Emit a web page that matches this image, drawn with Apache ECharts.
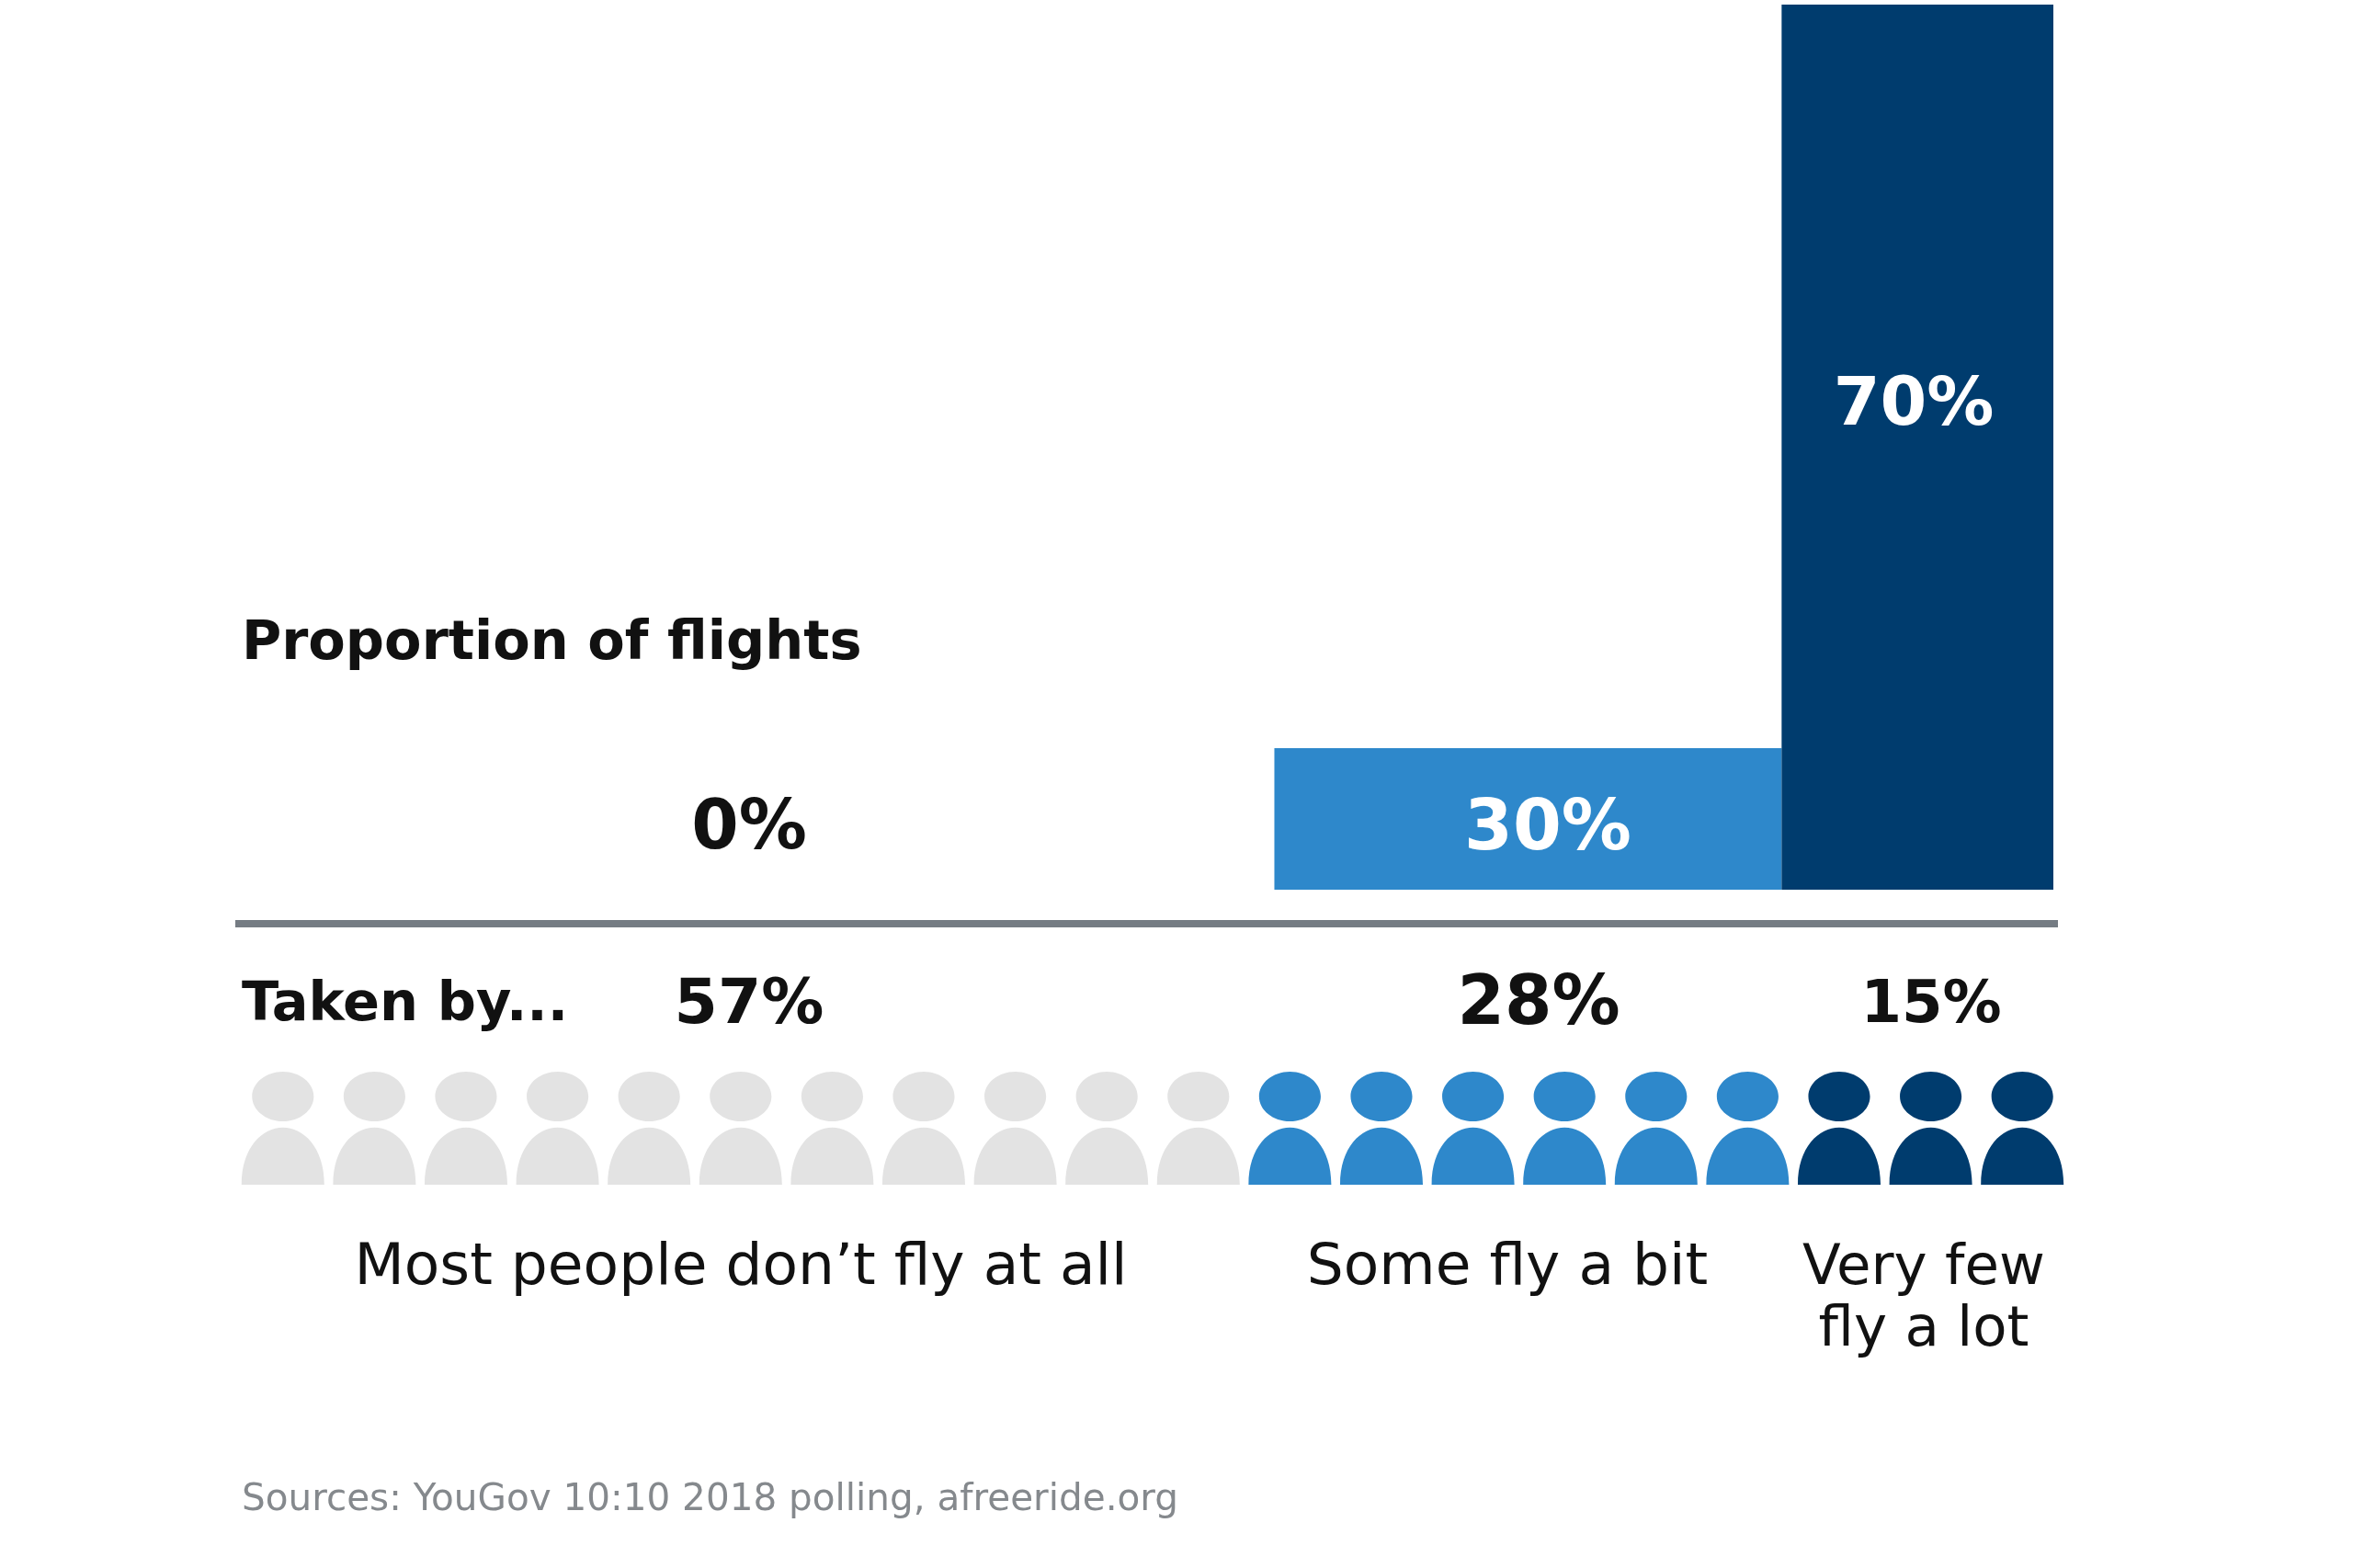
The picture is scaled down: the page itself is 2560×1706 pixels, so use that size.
<!DOCTYPE html>
<html><head><meta charset="utf-8">
<style>html,body{margin:0;padding:0;background:#fff}#c{width:2560px;height:1706px}</style>
<script src="https://cdn.jsdelivr.net/npm/echarts@6/dist/echarts.min.js"></script>
</head><body><div id="c"></div>
<script>
const groupNames = ['Most people don\u2019t fly at all', 'Some fly a bit', 'Very few\nfly a lot'];
const takenBy = [57, 28, 15];
const flights = [0, 30, 70];
const barHeights = [0, 16, 100];
const peopleCounts = [11, 6, 3];
const colors = ['#e3e3e3', '#2e88cb', '#003c6e'];
const sourceText = 'Sources: YouGov 10:10 2018 polling, afreeride.org';

const ICON = 'path://M27.5 0C38.8 0 48 7.4 48 16.5S38.8 33 27.5 33S7 25.6 7 16.5S16.2 0 27.5 0ZM0 75C0 50 14 37 27.5 37C41 37 55 50 55 75Z';

let start = 0;
const barData = takenBy.map((v, i) => { const d = [start, start + v, barHeights[i], i]; start += v; return d; });
const people = [];
peopleCounts.forEach((n, g) => { for (let i = 0; i < n; i++) people.push({ value: [people.length, 0.5], itemStyle: { color: colors[g], opacity: 1 } }); });

const FONT = '"DejaVu Sans"';
function txt(text, x, y, size, weight, fill, align, lh) {
  return { type: 'text', z: 100, x, y, style: { text, font: `${weight} ${size}px ${FONT}`, fill, align: align || 'left', verticalAlign: 'middle', lineHeight: lh } };
}

const chart = echarts.init(document.getElementById('c'), null, { renderer: 'canvas', width: 2560, height: 1706 });
chart.setOption({
  animation: false,
  backgroundColor: '#fff',
  grid: [
    { left: 263, top: 5, width: 1971, height: 963 },
    { left: 258, top: 1166, width: 1992, height: 123 }
  ],
  xAxis: [
    { gridIndex: 0, type: 'value', min: 0, max: 100, show: false },
    { gridIndex: 1, type: 'category', data: people.map((p, i) => i), show: false }
  ],
  yAxis: [
    { gridIndex: 0, type: 'value', min: 0, max: 100, show: false },
    { gridIndex: 1, type: 'value', min: 0, max: 1, show: false }
  ],
  series: [
    {
      type: 'custom', xAxisIndex: 0, yAxisIndex: 0, data: barData,
      encode: { x: [0, 1], y: 2 },
      renderItem(params, api) {
        const a = api.coord([api.value(0), 0]);
        const b = api.coord([api.value(1), api.value(2)]);
        return { type: 'rect', shape: { x: a[0], y: b[1], width: b[0] - a[0], height: a[1] - b[1] }, style: { fill: colors[api.value(3)] } };
      }
    },
    {
      type: 'scatter', xAxisIndex: 1, yAxisIndex: 1, data: people,
      symbol: ICON, symbolSize: [90, 123]
    }
  ],
  graphic: { elements: [
    { type: 'rect', z: 50, shape: { x: 256, y: 1001, width: 1983, height: 8 }, style: { fill: '#757c83' } },
    txt('Proportion of flights', 263, 702, 59, 'bold', '#111'),
    txt('Taken by...', 263, 1095, 59, 'bold', '#111'),
    txt(flights[0] + '%', 815, 904, 74, 'bold', '#111', 'center'),
    txt(flights[1] + '%', 1684, 904, 76, 'bold', '#fff', 'center'),
    txt(flights[2] + '%', 2082, 443, 73, 'bold', '#fff', 'center'),
    txt(takenBy[0] + '%', 815, 1095, 68, 'bold', '#111', 'center'),
    txt(takenBy[1] + '%', 1674, 1095, 74, 'bold', '#111', 'center'),
    txt(takenBy[2] + '%', 2101, 1095, 64, 'bold', '#111', 'center'),
    txt(groupNames[0], 806, 1381, 63, 'normal', '#111', 'center'),
    txt(groupNames[1], 1640, 1381, 63, 'normal', '#111', 'center'),
    txt(groupNames[2], 2093, 1415, 61, 'normal', '#111', 'center', 67),
    txt(sourceText, 263, 1632, 40.5, 'normal', '#85898d')
  ] }
});
</script></body></html>
